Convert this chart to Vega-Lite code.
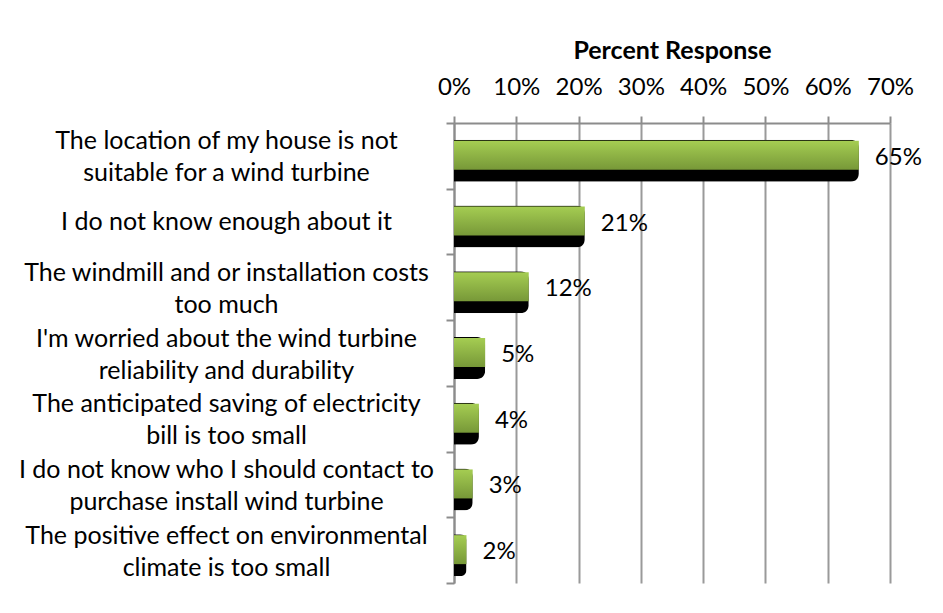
{
  "$schema": "https://vega.github.io/schema/vega-lite/v6.json",
  "autosize": "none",
  "width": 436,
  "height": 460,
  "padding": {"left": 454, "top": 123, "right": 53, "bottom": 30},
  "background": "white",
  "data": {
    "values": [
      {"reason": "The location of my house is not|suitable for a wind turbine", "share": 0.65},
      {"reason": "I do not know enough about it", "share": 0.21},
      {"reason": "The windmill and or installation costs|too much", "share": 0.12},
      {"reason": "I'm worried about the wind turbine|reliability and durability", "share": 0.05},
      {"reason": "The anticipated saving of electricity|bill is too small", "share": 0.04},
      {"reason": "I do not know who I should contact to|purchase install wind turbine", "share": 0.03},
      {"reason": "The positive effect on environmental|climate is too small", "share": 0.02}
    ]
  },
  "encoding": {
    "y": {
      "field": "reason",
      "type": "nominal",
      "sort": null,
      "scale": {"paddingInner": 0, "paddingOuter": 0},
      "axis": {
        "title": null,
        "labelExpr": "split(datum.label, '|')",
        "labelAlign": "center",
        "labelPadding": 220,
        "labelOffset": {"condition": {"test": "indexof(datum.label, '|') >= 0", "value": -15}, "value": 0},
        "labelLimit": 0,
        "labelFont": "Lato",
        "labelFontSize": 25,
        "labelLineHeight": 32,
        "labelColor": "black",
        "labelBaseline": "middle",
        "tickBand": "extent",
        "tickSize": 8,
        "tickColor": "#8c8c8c",
        "tickWidth": 2,
        "domainColor": "#8c8c8c",
        "domainWidth": 2,
        "grid": false
      }
    },
    "x": {
      "field": "share",
      "type": "quantitative",
      "scale": {"domain": [0, 0.7], "nice": false},
      "axis": {
        "orient": "top",
        "title": "Percent Response",
        "titleFont": "Lato",
        "titleFontSize": 25,
        "titleFontWeight": "bold",
        "titleColor": "black",
        "titlePadding": 12,
        "format": ".0%",
        "values": [0, 0.1, 0.2, 0.3, 0.4, 0.5, 0.6, 0.7],
        "labelFont": "Lato",
        "labelFontSize": 24,
        "labelColor": "black",
        "labelPadding": 17,
        "labelFlush": false,
        "tickSize": 7,
        "tickColor": "#8c8c8c",
        "tickWidth": 2,
        "domainColor": "#8c8c8c",
        "domainWidth": 2,
        "grid": true,
        "gridColor": "#9a9a9a",
        "gridWidth": 2
      }
    }
  },
  "layer": [
    {
      "mark": {
        "type": "bar",
        "color": "black",
        "size": 42,
        "yOffset": 5,
        "x2Offset": 7,
        "cornerRadiusTopRight": 8,
        "cornerRadiusBottomRight": 8
      }
    },
    {
      "mark": {
        "type": "bar",
        "size": 29,
        "yOffset": -0.5,
        "color": {
          "x1": 0, "y1": 0, "x2": 0, "y2": 1,
          "gradient": "linear",
          "stops": [
            {"offset": 0, "color": "#a5cd52"},
            {"offset": 1, "color": "#779838"}
          ]
        }
      }
    },
    {
      "mark": {
        "type": "text",
        "align": "left",
        "baseline": "middle",
        "dx": 16,
        "dy": 2,
        "font": "Lato",
        "fontSize": 24,
        "color": "black"
      },
      "encoding": {
        "text": {"field": "share", "type": "quantitative", "format": ".0%"}
      }
    }
  ],
  "config": {
    "view": {"stroke": null}
  }
}
